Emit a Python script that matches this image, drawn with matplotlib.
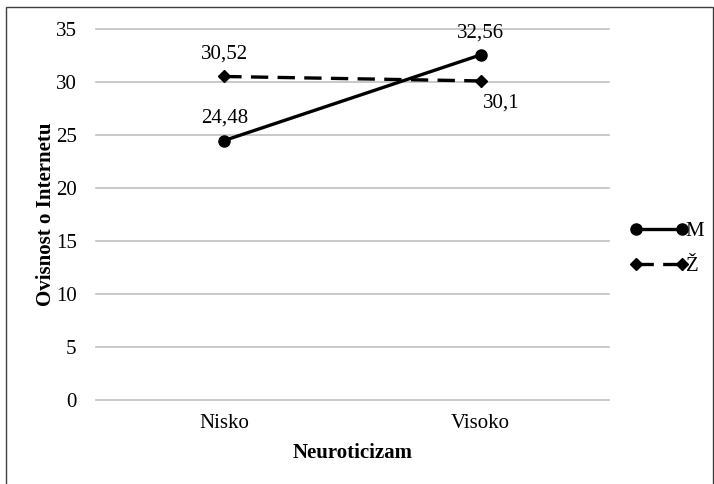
import numpy as np
import matplotlib.pyplot as plt
from matplotlib.patches import Rectangle

# Daten
kategorije = ["Nisko", "Visoko"]
muski = [24.48, 32.56]
zenski = [30.52, 30.1]
oznake_m = ["24,48", "32,56"]
oznake_z = ["30,52", "30,1"]

plt.rcParams['font.family'] = ['Liberation Serif', 'DejaVu Serif']
fs = 15

fig = plt.figure(figsize=(7.14, 4.84), dpi=100)
ax = fig.add_axes([96/714, 1 - 400/484, (609-96)/714, (400-29)/484])

x = np.arange(len(kategorije))

# Linien
ax.plot(x, muski, color="black", linewidth=2.4, marker="o", markersize=8,
        label="M", zorder=3)
ax.plot(x, zenski, color="black", linewidth=2.4, linestyle=(0, (5.2, 2.8)),
        marker="D", markersize=6, label="Ž", zorder=3)

# Beschriftungen
ax.annotate(oznake_m[0], (x[0], muski[0]), xytext=(0, 16), textcoords="offset points",
            ha="center", va="center", fontsize=fs)
ax.annotate(oznake_m[1], (x[1], muski[1]), xytext=(0, 16), textcoords="offset points",
            ha="center", va="center", fontsize=fs)
ax.annotate(oznake_z[0], (x[0], zenski[0]), xytext=(0, 16), textcoords="offset points",
            ha="center", va="center", fontsize=fs)
ax.annotate(oznake_z[1], (x[1], zenski[1]), xytext=(15, -16), textcoords="offset points",
            ha="center", va="center", fontsize=fs)

# Achsen
ax.set_xlim(-0.5, 1.5)
ax.set_ylim(0, 35)
ax.set_yticks(range(0, 36, 5))
ax.set_xticks(x)
ax.set_xticklabels(kategorije)
ax.tick_params(length=0, labelsize=fs, pad=10)
ax.tick_params(axis="y", pad=14)
ax.grid(axis="y", color="#c0c0c0", linewidth=1.2)
for gl in ax.get_ygridlines():
    gl.set_clip_on(False)
ax.set_axisbelow(True)
for s in ax.spines.values():
    s.set_visible(False)

ax.set_xlabel("Neuroticizam", fontsize=fs, fontweight="bold", labelpad=7)
ax.set_ylabel("Ovisnost o Internetu", fontsize=fs, fontweight="bold", labelpad=0)

# Legende
ax.legend(loc="center left", bbox_to_anchor=(630/714, 1 - 249/484),
          bbox_transform=fig.transFigure, frameon=False,
          numpoints=2, handlelength=2.8, handletextpad=-0.12, fontsize=fs,
          labelspacing=0.75, borderaxespad=0, borderpad=0)

# Rahmen
fig.patches.append(Rectangle((6/714, -0.1), 0.99, 1 - 7/484 + 0.1,
                             transform=fig.transFigure, fill=False,
                             edgecolor="#404040", linewidth=1))

fig.savefig("out.png", dpi=100)
